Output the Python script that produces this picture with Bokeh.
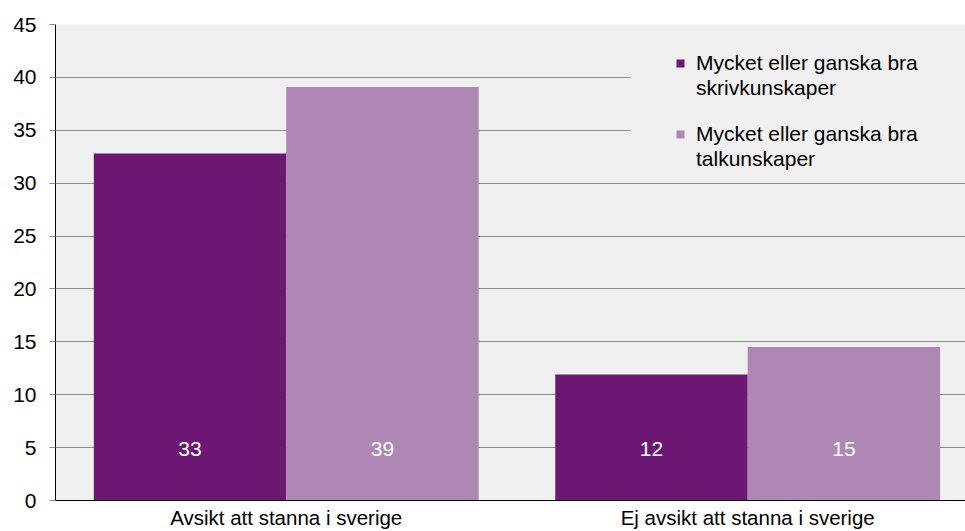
from bokeh.plotting import figure
from bokeh.models import (ColumnDataSource, Range1d, FixedTicker, LabelSet,
                          Legend, LegendItem, BoxAnnotation)
from bokeh.embed import file_html
from bokeh.resources import INLINE
from bokeh.core.properties import value

categories = ["Avsikt att stanna i sverige", "Ej avsikt att stanna i sverige"]
series_line1 = ["Mycket eller ganska bra", "Mycket eller ganska bra"]
series_line2 = ["skrivkunskaper", "talkunskaper"]
skriv = [32.8, 11.9]
tal = [39.1, 14.5]
y_ticks = [0, 5, 10, 15, 20, 25, 30, 35, 40, 45]

DARK = "#6C1872"
LIGHT = "#AE87B4"
BG = "#F0F0F0"
GRID = "#8C8C8C"
FONT = "Liberation Sans"
FS = "21px"

BAR_W = 0.417
xs = list(range(len(categories)))
src_s = ColumnDataSource(dict(x=[i - BAR_W / 2 for i in xs], top=skriv,
                              lab=[str(int(v + 0.5)) for v in skriv]))
src_t = ColumnDataSource(dict(x=[i + BAR_W / 2 for i in xs], top=tal,
                              lab=[str(int(v + 0.5)) for v in tal]))

p = figure(width=965, height=531, output_backend="svg", toolbar_location=None,
           x_range=Range1d(-0.5, 1.472), y_range=Range1d(0, 45),
           min_border_left=55, min_border_right=0, min_border_top=24,
           min_border_bottom=31)
p.background_fill_color = BG
p.border_fill_color = "white"
p.outline_line_color = None

r1 = p.vbar(x="x", top="top", width=BAR_W, source=src_s, fill_color=DARK, line_color=None)
r2 = p.vbar(x="x", top="top", width=BAR_W, source=src_t, fill_color=LIGHT, line_color=None)
# invisible renderer used only for second legend text lines
r_blank = p.vbar(x=[], top=[], width=BAR_W, fill_alpha=0, line_alpha=0)

for src in (src_s, src_t):
    p.add_layout(LabelSet(x="x", y=0, text="lab", source=src, y_offset=52,
                          text_align="center", text_baseline="middle",
                          text_color="white", text_font=value(FONT),
                          text_font_size=FS))

p.xgrid.visible = False
p.ygrid.ticker = FixedTicker(ticks=y_ticks)
p.ygrid.grid_line_color = GRID
p.ygrid.grid_line_width = 1

p.yaxis.ticker = FixedTicker(ticks=y_ticks)
p.yaxis.axis_line_color = "black"
p.yaxis.major_tick_line_color = GRID
p.yaxis.major_tick_out = 6
p.yaxis.major_tick_in = 0
p.yaxis.minor_tick_line_color = None
p.yaxis.major_label_standoff = 13
p.yaxis.major_label_text_font = FONT
p.yaxis.major_label_text_font_size = FS
p.yaxis.major_label_text_color = "black"

p.xaxis.ticker = FixedTicker(ticks=xs)
p.xaxis.major_label_overrides = {i: c for i, c in zip(xs, categories)}
p.xaxis.axis_line_color = "black"
p.xaxis.major_tick_line_color = None
p.xaxis.major_tick_out = 0
p.xaxis.minor_tick_line_color = None
p.xaxis.major_label_standoff = 5
p.xaxis.major_label_text_line_height = 0.6
p.xaxis.major_label_text_font = FONT
p.xaxis.major_label_text_font_size = "20.5px"
p.xaxis.major_label_text_color = "black"

p.add_layout(BoxAnnotation(left=0.746, right=1.472, top=43.0, bottom=30.6,
                           fill_color=BG, fill_alpha=1, line_alpha=0))

legend_style = dict(padding=0, margin=0, spacing=0, label_height=25,
                    glyph_width=10, glyph_height=10, label_standoff=11,
                    background_fill_alpha=0, border_line_alpha=0,
                    label_text_font=FONT, label_text_font_size=FS,
                    label_text_color="black")
for k, (rend, loc_y) in enumerate(((r1, 400), (r2, 329))):
    lg = Legend(items=[LegendItem(label=series_line1[k], renderers=[rend]),
                       LegendItem(label=series_line2[k], renderers=[r_blank])],
                location=(620, loc_y), **legend_style)
    p.add_layout(lg)

open("out.html", "w").write(file_html(p, INLINE))
